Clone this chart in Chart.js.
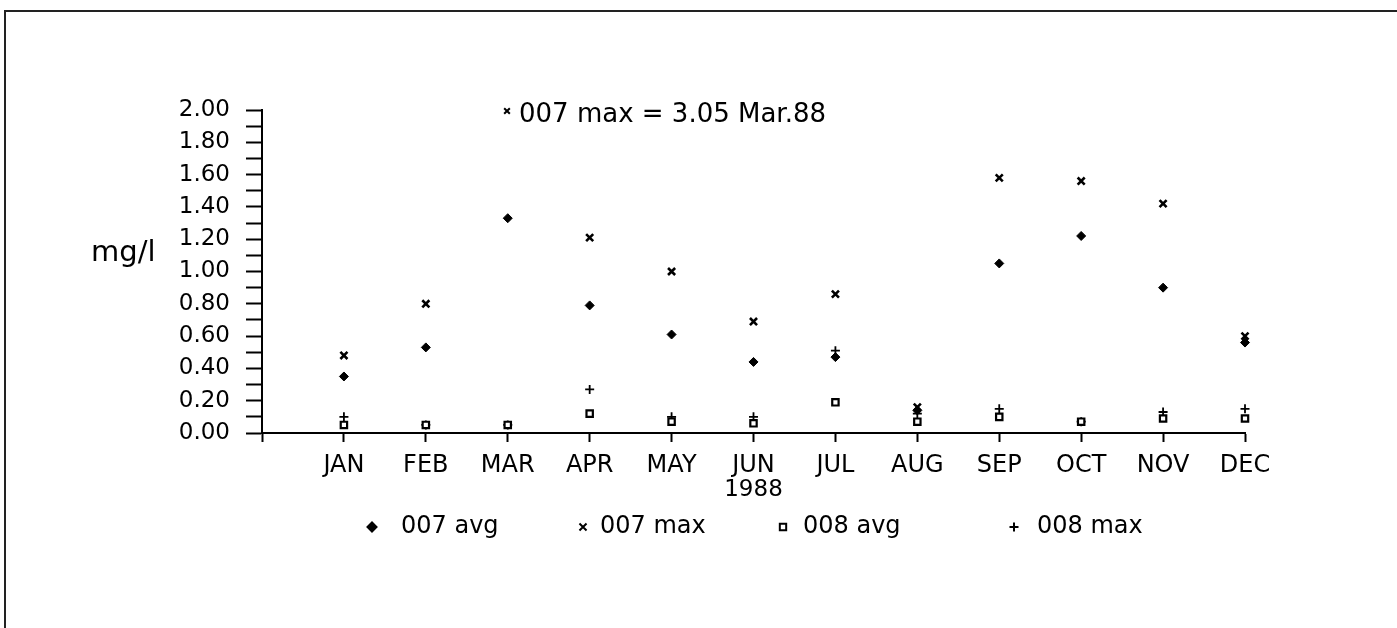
<!DOCTYPE html>
<html>
<head>
<meta charset="utf-8">
<script src="https://cdn.jsdelivr.net/npm/chart.js@4/dist/chart.umd.min.js"></script>
<style>
  html, body { margin: 0; padding: 0; background: #fff; overflow: hidden; }
  #wrap { position: relative; width: 1397px; height: 628px; }
</style>
</head>
<body>
<div id="wrap"><canvas id="c"></canvas></div>
<script>
// Monthly concentrations, 1988 (mg/l)
const months = ['JAN', 'FEB', 'MAR', 'APR', 'MAY', 'JUN', 'JUL', 'AUG', 'SEP', 'OCT', 'NOV', 'DEC'];
const avg007 = [0.35, 0.53, 1.33, 0.79, 0.61, 0.44, 0.47, 0.14, 1.05, 1.22, 0.90, 0.56];
const max007 = [0.48, 0.80, 3.05, 1.21, 1.00, 0.69, 0.86, 0.16, 1.58, 1.56, 1.42, 0.60];
const avg008 = [0.05, 0.05, 0.05, 0.12, 0.07, 0.06, 0.19, 0.07, 0.10, 0.07, 0.09, 0.09];
const max008 = [0.10, 0.05, 0.05, 0.27, 0.10, 0.10, 0.51, 0.12, 0.15, 0.07, 0.13, 0.15];
const seriesNames = ['007 avg', '007 max', '008 avg', '008 max'];
const yMin = 0, yMax = 2, yMinorStep = 0.1;
const yearLabel = '1988';
const unitLabel = 'mg/l';
const offScaleNote = '007 max = 3.05 Mar.88';

const INK = '#000';
const FONT = "'DejaVu Sans', sans-serif";

const toPoints = arr => arr.map((v, i) => ({ x: i + 1, y: v }));

const markerStyles = [
  { pointStyle: 'rectRot', radius: 4.5, borderWidth: 1, backgroundColor: INK },
  { pointStyle: 'crossRot', radius: 5, borderWidth: 2.6, backgroundColor: INK },
  { pointStyle: 'rect', radius: 4.5, borderWidth: 2.2, backgroundColor: '#fff' },
  { pointStyle: 'cross', radius: 4.5, borderWidth: 1.8, backgroundColor: INK }
];

const seriesData = [avg007, max007, avg008, max008];

const datasets = seriesData.map((arr, k) => ({
  label: seriesNames[k],
  data: toPoints(arr),
  showLine: false,
  pointStyle: markerStyles[k].pointStyle,
  pointRadius: markerStyles[k].radius,
  pointHoverRadius: markerStyles[k].radius,
  pointBorderWidth: markerStyles[k].borderWidth,
  pointBackgroundColor: markerStyles[k].backgroundColor,
  pointBorderColor: INK,
  clip: false
}));

// Frame, unit label, off-scale note and the legend row
const decorations = {
  id: 'decorations',
  afterDraw(chart) {
    const ctx = chart.ctx;
    const ys = chart.scales.y;
    ctx.save();

    // page frame (top and left edges)
    ctx.strokeStyle = '#222';
    ctx.lineWidth = 2;
    ctx.beginPath();
    ctx.moveTo(5, 628);
    ctx.lineTo(5, 11);
    ctx.lineTo(1397, 11);
    ctx.stroke();

    // unit label beside the value axis
    ctx.fillStyle = INK;
    ctx.font = '29px ' + FONT;
    ctx.textAlign = 'left';
    ctx.textBaseline = 'alphabetic';
    ctx.fillText(unitLabel, 91, 261);

    // note for the value that lies above the axis range
    const noteY = ys.getPixelForValue(yMax);
    ctx.strokeStyle = INK;
    ctx.fillStyle = INK;
    Chart.helpers.drawPoint(ctx, { pointStyle: 'crossRot', radius: 4, borderWidth: 2.4, rotation: 0 }, 507, noteY + 1);
    ctx.font = '26px ' + FONT;
    ctx.textBaseline = 'alphabetic';
    ctx.fillText(offScaleNote, 519, noteY + 12);

    // legend
    const legendY = 527;
    const markerX = [372, 583, 783, 1014];
    const textX = [401, 600, 803, 1037];
    ctx.font = '24px ' + FONT;
    ctx.textBaseline = 'middle';
    chart.data.datasets.forEach((ds, k) => {
      ctx.fillStyle = ds.pointBackgroundColor;
      ctx.strokeStyle = INK;
      Chart.helpers.drawPoint(ctx, {
        pointStyle: ds.pointStyle,
        radius: ds.pointRadius,
        borderWidth: ds.pointBorderWidth,
        rotation: 0
      }, markerX[k], legendY);
      ctx.fillStyle = INK;
      ctx.fillText(ds.label, textX[k], legendY);
    });
    ctx.restore();
  }
};

new Chart(document.getElementById('c'), {
  type: 'scatter',
  data: { datasets },
  options: {
    responsive: true,
    maintainAspectRatio: false,
    animation: false,
    events: [],
    layout: { padding: { top: 110, right: 152, bottom: 124, left: 0 } },
    plugins: {
      legend: { display: false },
      tooltip: { enabled: false }
    },
    scales: {
      x: {
        type: 'linear',
        min: 0,
        max: months.length,
        afterFit(scale) { scale.height = 71; },
        border: { display: true, color: INK, width: 2 },
        grid: { display: true, drawOnChartArea: false, drawTicks: true, tickLength: 9, tickWidth: 2, tickColor: INK },
        ticks: {
          stepSize: 1,
          autoSkip: false,
          maxRotation: 0,
          padding: 9,
          color: INK,
          font: { family: FONT, size: 24 },
          callback: v => (v >= 1 && v <= months.length) ? months[v - 1] : ''
        },
        title: {
          display: true,
          text: yearLabel,
          color: INK,
          font: { family: FONT, size: 23 },
          padding: { top: 0, bottom: 0 }
        }
      },
      y: {
        min: yMin,
        max: yMax,
        afterFit(scale) { scale.width = 262; },
        border: { display: true, color: INK, width: 2 },
        grid: { display: true, drawOnChartArea: false, drawTicks: true, tickLength: 16, tickWidth: 2, tickColor: INK },
        ticks: {
          stepSize: yMinorStep,
          autoSkip: false,
          padding: 16,
          color: INK,
          font: { family: FONT, size: 23 },
          callback: v => (Math.round(v * 10) % 2 === 0) ? v.toFixed(2) : ''
        }
      }
    }
  },
  plugins: [decorations]
});
</script>
</body>
</html>
